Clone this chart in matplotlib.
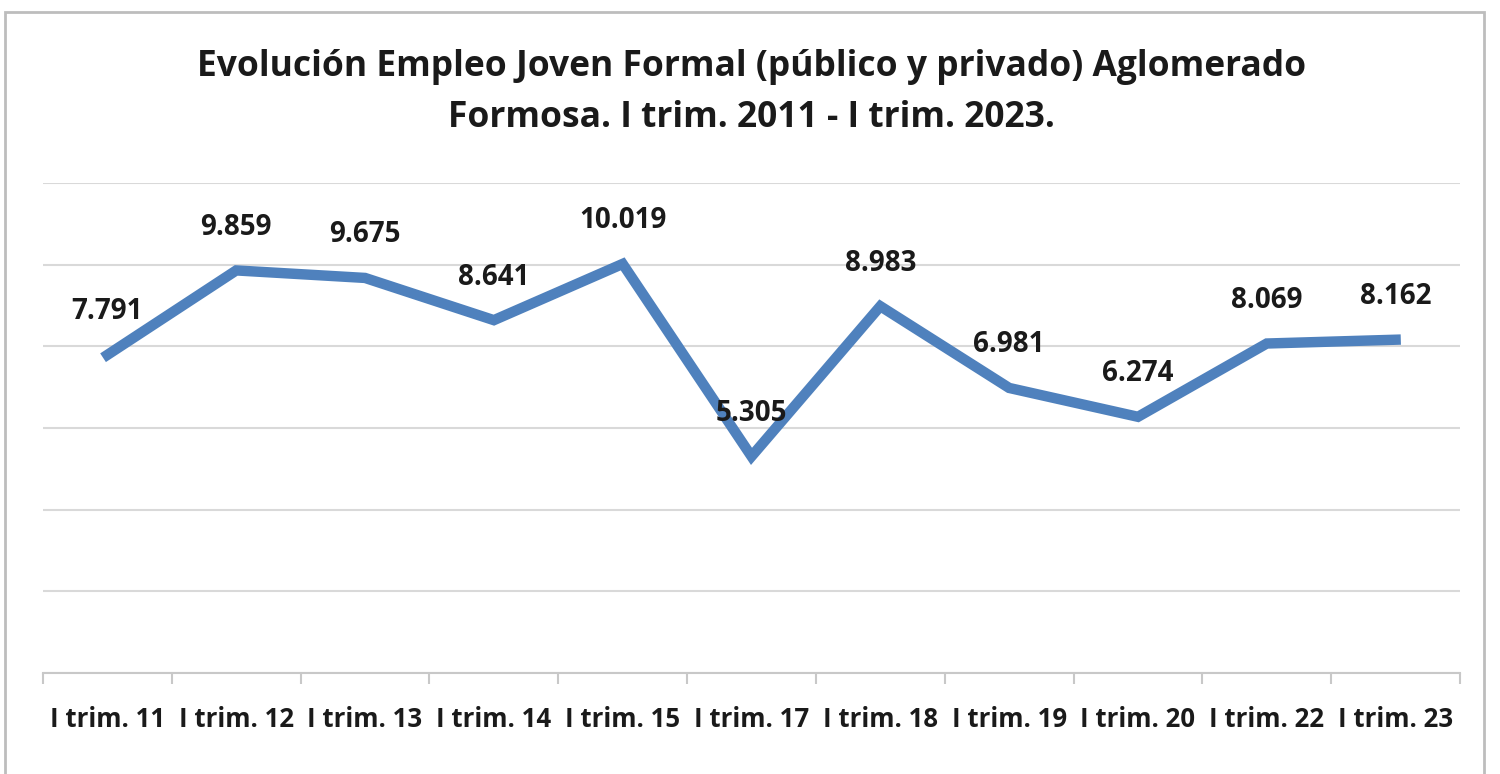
import matplotlib
matplotlib.use("Agg")
import matplotlib.pyplot as plt
from matplotlib.patches import Rectangle
import numpy as np

# Data
categories = ["I trim. 11", "I trim. 12", "I trim. 13", "I trim. 14", "I trim. 15",
              "I trim. 17", "I trim. 18", "I trim. 19", "I trim. 20", "I trim. 22",
              "I trim. 23"]
empleo = [7791, 9859, 9675, 8641, 10019, 5305, 8983, 6981, 6274, 8069, 8162]

BLUE, GRID, DARK = "#4F81BD", "#d9d9d9", "#1a1a1a"
FONT = "Open Sans"

fig = plt.figure(figsize=(15, 7.74), dpi=100)
ax = fig.add_axes([43 / 1500, 1 - 673 / 774, 1417 / 1500, 490 / 774])

x = np.arange(len(categories))
ax.plot(x, empleo, color=BLUE, lw=7.5, solid_joinstyle="miter", zorder=3)

for xi, v in zip(x, empleo):
    ax.annotate(f"{v:,}".replace(",", "."), (xi, v), textcoords="offset points",
                xytext=(0, 31), ha="center", va="center", fontsize=20,
                fontweight="bold", family=FONT, color=DARK, zorder=4)

ax.set_xlim(-0.5, len(categories) - 0.5)
ax.set_ylim(0, 12000)
ax.set_yticks(np.arange(0, 12001, 2000))
ax.yaxis.grid(True, color=GRID, lw=1.5)
ax.tick_params(axis="y", length=0, labelleft=False)

ax.set_xticks(x)
ax.set_xticklabels(categories, fontsize=18.5, fontweight="bold", family=FONT, color=DARK)
ax.set_xticks(np.arange(-0.5, len(categories)), minor=True)
ax.tick_params(axis="x", which="major", length=0, pad=24)
ax.tick_params(axis="x", which="minor", length=8, color="#c8c8c8", width=1.5)

for s in ["top", "right", "left"]:
    ax.spines[s].set_visible(False)
ax.spines["bottom"].set_color("#c8c8c8")
ax.spines["bottom"].set_linewidth(1.5)
ax.set_axisbelow(True)

fig.text(0.501, 1 - 67 / 774, "Evolución Empleo Joven Formal (público y privado) Aglomerado",
         ha="center", va="center", fontsize=25.5, fontweight="bold", family=FONT, color=DARK)
fig.text(0.501, 1 - 118 / 774, "Formosa. I trim. 2011 - I trim. 2023.",
         ha="center", va="center", fontsize=25.5, fontweight="bold", family=FONT, color=DARK)

# outer chart frame
fig.patches.append(Rectangle((5 / 1500, -0.05), 1479 / 1500, 1.05 - 12 / 774,
                             transform=fig.transFigure, fill=False,
                             edgecolor="#bdbdbd", lw=2))

fig.savefig("out.png", dpi=100)
